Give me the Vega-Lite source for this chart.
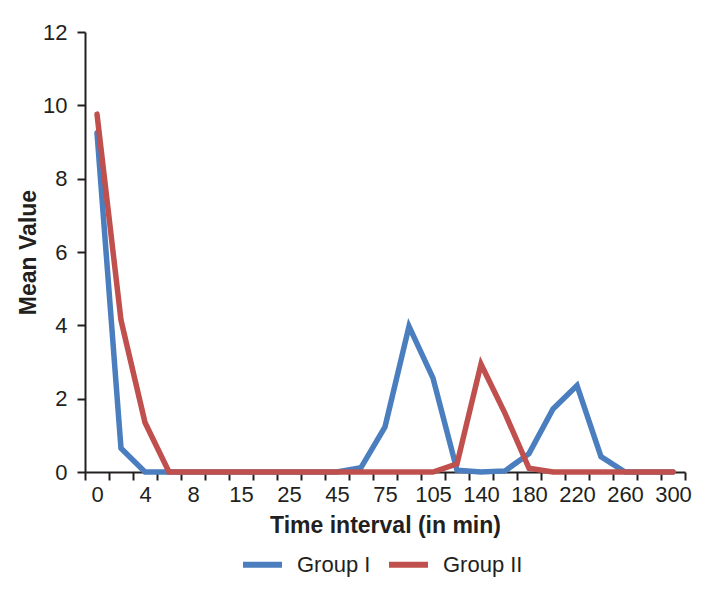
{
  "$schema": "https://vega.github.io/schema/vega-lite/v6.json",
  "width": 600,
  "height": 440,
  "autosize": {"type": "none"},
  "padding": {"left": 85, "top": 32, "right": 30, "bottom": 126},
  "background": "white",
  "config": {
    "font": "Liberation Sans",
    "view": {"stroke": null},
    "axis": {"labelFont": "Liberation Sans", "titleFont": "Liberation Sans", "labelColor": "#231f20", "titleColor": "#231f20", "domainColor": "#231f20", "tickColor": "#231f20", "domainWidth": 2, "tickWidth": 2, "grid": false}
  },
  "data": {
    "values": [
      {"t": 0, "group": "Group I", "v": 9.25},
      {"t": 2, "group": "Group I", "v": 0.65},
      {"t": 4, "group": "Group I", "v": 0},
      {"t": 6, "group": "Group I", "v": 0},
      {"t": 8, "group": "Group I", "v": 0},
      {"t": 10, "group": "Group I", "v": 0},
      {"t": 15, "group": "Group I", "v": 0},
      {"t": 20, "group": "Group I", "v": 0},
      {"t": 25, "group": "Group I", "v": 0},
      {"t": 30, "group": "Group I", "v": 0},
      {"t": 45, "group": "Group I", "v": 0},
      {"t": 60, "group": "Group I", "v": 0.12},
      {"t": 75, "group": "Group I", "v": 1.23},
      {"t": 90, "group": "Group I", "v": 3.97},
      {"t": 105, "group": "Group I", "v": 2.56},
      {"t": 120, "group": "Group I", "v": 0.05},
      {"t": 140, "group": "Group I", "v": 0},
      {"t": 160, "group": "Group I", "v": 0.03},
      {"t": 180, "group": "Group I", "v": 0.5},
      {"t": 200, "group": "Group I", "v": 1.72},
      {"t": 220, "group": "Group I", "v": 2.36},
      {"t": 240, "group": "Group I", "v": 0.42},
      {"t": 260, "group": "Group I", "v": 0},
      {"t": 280, "group": "Group I", "v": 0},
      {"t": 300, "group": "Group I", "v": 0},
      {"t": 0, "group": "Group II", "v": 9.76},
      {"t": 2, "group": "Group II", "v": 4.14},
      {"t": 4, "group": "Group II", "v": 1.35},
      {"t": 6, "group": "Group II", "v": 0},
      {"t": 8, "group": "Group II", "v": 0},
      {"t": 10, "group": "Group II", "v": 0},
      {"t": 15, "group": "Group II", "v": 0},
      {"t": 20, "group": "Group II", "v": 0},
      {"t": 25, "group": "Group II", "v": 0},
      {"t": 30, "group": "Group II", "v": 0},
      {"t": 45, "group": "Group II", "v": 0},
      {"t": 60, "group": "Group II", "v": 0},
      {"t": 75, "group": "Group II", "v": 0},
      {"t": 90, "group": "Group II", "v": 0},
      {"t": 105, "group": "Group II", "v": 0},
      {"t": 120, "group": "Group II", "v": 0.22},
      {"t": 140, "group": "Group II", "v": 2.94},
      {"t": 160, "group": "Group II", "v": 1.6},
      {"t": 180, "group": "Group II", "v": 0.1},
      {"t": 200, "group": "Group II", "v": 0},
      {"t": 220, "group": "Group II", "v": 0},
      {"t": 240, "group": "Group II", "v": 0},
      {"t": 260, "group": "Group II", "v": 0},
      {"t": 280, "group": "Group II", "v": 0},
      {"t": 300, "group": "Group II", "v": 0}
    ]
  },
  "mark": {"type": "line", "strokeWidth": 5.5, "strokeCap": "round"},
  "encoding": {
    "x": {
      "field": "t",
      "type": "ordinal",
      "scale": {"type": "band", "paddingInner": 0, "paddingOuter": 0},
      "axis": {
        "title": "Time interval (in min)",
        "titleFontSize": 23,
        "titleFontWeight": "bold",
        "titlePadding": 9,
        "labelAngle": 0,
        "labelFontSize": 22,
        "labelPadding": 4,
        "tickSize": 8,
        "tickBand": "extent",
        "labelExpr": "indexof(['0','4','8','15','25','45','75','105','140','180','220','260','300'], datum.label) >= 0 ? datum.label : ''"
      }
    },
    "y": {
      "field": "v",
      "type": "quantitative",
      "scale": {"domain": [0, 12], "nice": false, "zero": true},
      "axis": {
        "title": "Mean Value",
        "values": [0, 2, 4, 6, 8, 10, 12],
        "titleFontSize": 23,
        "titleFontWeight": "bold",
        "titlePadding": 2,
        "labelFontSize": 22,
        "labelPadding": 10,
        "tickSize": 8
      }
    },
    "color": {
      "field": "group",
      "type": "nominal",
      "scale": {"domain": ["Group I", "Group II"], "range": ["#4a7ebf", "#c0504d"]},
      "legend": {
        "title": null,
        "orient": "none",
        "direction": "horizontal",
        "legendX": 155,
        "legendY": 510,
        "symbolType": "stroke",
        "symbolStrokeWidth": 6,
        "symbolSize": 1521,
        "labelFontSize": 22,
        "labelColor": "#231f20",
        "labelOffset": 12,
        "columnPadding": 6
      }
    }
  }
}
